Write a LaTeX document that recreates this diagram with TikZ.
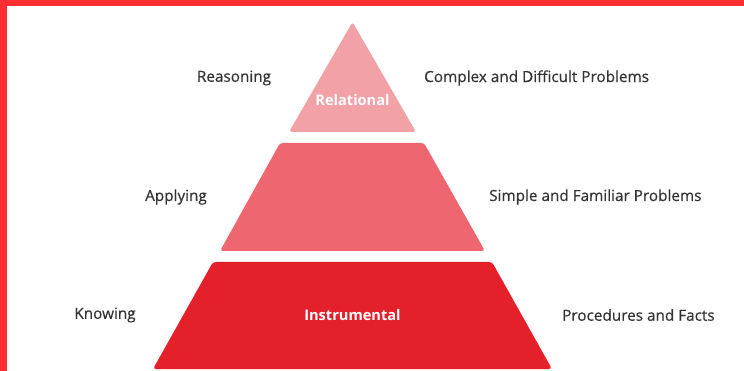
\documentclass[tikz,border=0pt]{standalone}
\usepackage{fontspec}
\setmainfont{Open Sans}
\definecolor{frame}{HTML}{FF2E33}
\definecolor{tierA}{HTML}{F2A1A6}
\definecolor{tierB}{HTML}{EE6670}
\definecolor{tierC}{HTML}{E4202B}
\definecolor{txt}{HTML}{333333}
\begin{document}
\begin{tikzpicture}[x=1pt,y=-1pt,
  tier/.style={rounded corners=3pt, draw=none},
  sidelabel/.style={font=\fontsize{15.3}{17}\selectfont\addfontfeature{FakeBold=0.4}, text=txt, inner sep=0pt},
  tierlabel/.style={font=\fontsize{14.6}{17}\selectfont\bfseries, text=white, inner sep=0pt}]
\useasboundingbox (0,0) rectangle (744,371);
\fill[white] (0,0) rectangle (744,371);
\fill[frame] (0,0) rectangle (744,6);
\fill[frame] (0,0) rectangle (7,371);
% tiers
\fill[tierA, tier] (352.5,22) -- (416,132) -- (289,132) -- cycle;
\fill[tierB, tier] (280,143) -- (424,143) -- (485,251) -- (220,251) -- cycle;
\fill[tierC, tier] (213,262) -- (492,262) -- (552,369) -- (153,369) -- cycle;
% tier labels
\node[tierlabel] (rel) at (352.5,100) {Relational};
\node[tierlabel] (ins) at (352.5,315) {Instrumental};
% left labels
\node[sidelabel] (reas) at (234,78) {Reasoning};
\node[sidelabel] (appl) at (176,197) {Applying};
\node[sidelabel] (know) at (105,315) {Knowing};
% right labels
\node[sidelabel, anchor=west] (cdp) at (424,78) {Complex and Difficult Problems};
\node[sidelabel, anchor=west] (sfp) at (489,197) {Simple and Familiar Problems};
\node[sidelabel, anchor=west] (paf) at (562,315) {Procedures and Facts};
\end{tikzpicture}
\end{document}
